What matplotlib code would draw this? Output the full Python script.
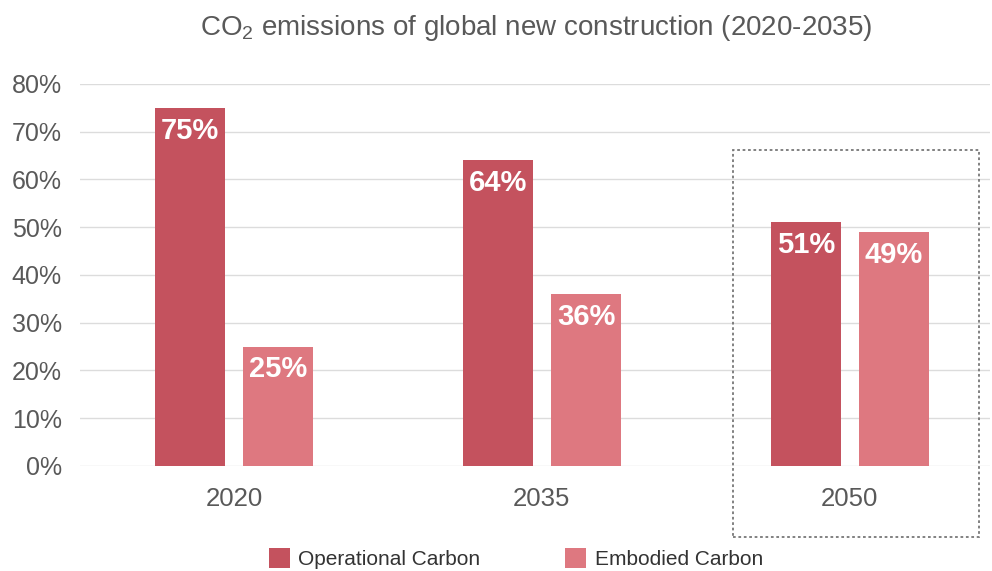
import numpy as np
import matplotlib.pyplot as plt
from matplotlib.patches import Rectangle

# Data
years = ['2020', '2035', '2050']
operational = [75, 64, 51]  # Operational Carbon (%)
embodied = [25, 36, 49]     # Embodied Carbon (%)

op_color = '#C4525E'
emb_color = '#DE7880'
text_gray = '#595959'

plt.rcParams['font.family'] = ['Liberation Sans', 'DejaVu Sans']
plt.rcParams['mathtext.fontset'] = 'custom'
plt.rcParams['mathtext.rm'] = 'Liberation Sans'
plt.rcParams['mathtext.it'] = 'Liberation Sans'

fig = plt.figure(figsize=(9.92, 5.71), dpi=100)
ax = fig.add_axes([0.0806, 0.184, 0.9174, 0.669])

x = np.arange(len(years))
w = 0.227
off = 0.143
b1 = ax.bar(x - off, operational, w, color=op_color, label='Operational Carbon', zorder=3)
b2 = ax.bar(x + off, embodied, w, color=emb_color, label='Embodied Carbon', zorder=3)

# value labels inside the bar tops
for bars, vals in [(b1, operational), (b2, embodied)]:
    for bar, v in zip(bars, vals):
        ax.text(bar.get_x() + bar.get_width() / 2, v - 4.8, f'{v}%',
                ha='center', va='center', color='white', fontsize=21,
                fontweight='bold', zorder=4)

ax.set_ylim(0, 80)
ax.set_xlim(-0.5, 2.455)
ax.set_yticks(range(0, 81, 10))
ax.set_yticklabels([f'{t}%' for t in range(0, 81, 10)])
ax.set_xticks(x)
ax.set_xticklabels(years)
ax.tick_params(axis='both', length=0, labelcolor=text_gray)
ax.tick_params(axis='y', pad=13, labelsize=18)
ax.tick_params(axis='x', pad=15, labelsize=18.5)
ax.grid(axis='y', color='#DCDCDC', linewidth=1, zorder=0)
for s in ax.spines.values():
    s.set_visible(False)

# dotted highlight box around 2050
box = Rectangle((1.62, -14.9), 0.80, 81.1, fill=False, edgecolor='#777777',
                linestyle=(0, (1.5, 1.5)), linewidth=1.3, clip_on=False, zorder=5)
ax.add_patch(box)

fig.text(0.541, 0.951, 'CO$_2$ emissions of global new construction (2020-2035)',
         ha='center', va='center', fontsize=20, color=text_gray)

fig.legend(handles=[b1, b2], loc='center', bbox_to_anchor=(0.52, 0.022), ncol=2,
           frameon=False, fontsize=15, handlelength=1.0, handleheight=1.1,
           handletextpad=0.4, columnspacing=4.1, labelcolor='#333333')

fig.savefig('out.png', dpi=100)
